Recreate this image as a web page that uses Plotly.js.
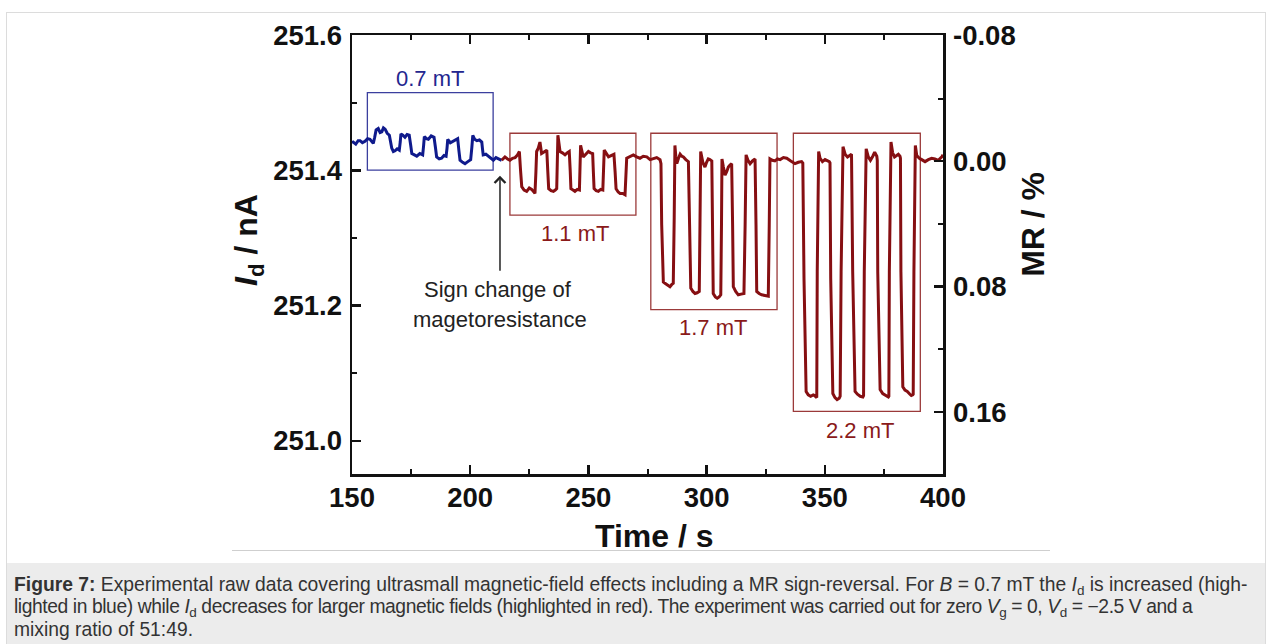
<!DOCTYPE html>
<html>
<head>
<meta charset="utf-8">
<script src="https://cdn.plot.ly/plotly-3.0.1.min.js"></script>
<style>
  html, body { margin: 0; padding: 0; width: 1272px; height: 644px; overflow: hidden; background: #fff; }
  #frame { position: absolute; left: 6px; top: 12px; width: 1260px; height: 640px; border: 1px solid #dcdcdc; box-sizing: border-box; }
  #rule { position: absolute; left: 232px; top: 550px; width: 818px; height: 0; border-top: 1px solid #cfcfcf; }
  #cap { position: absolute; left: 7px; top: 563px; width: 1258px; height: 81px; background: #ececec; }
  #captext { position: absolute; left: 7px; top: 10.5px; font-family: "Liberation Sans", Arial, sans-serif; font-size: 19.3px; line-height: 22.5px; color: #333; white-space: nowrap; }
  #captext sub { font-size: 70%; line-height: 0; vertical-align: -0.3em; }
  #captext .l2 { letter-spacing: -0.42px; }
  #plot { position: absolute; left: 0; top: 0; width: 1272px; height: 644px; }
</style>
</head>
<body>
<div id="frame"></div>
<div id="rule"></div>
<div id="cap"><div id="captext"><b>Figure 7:</b> Experimental raw data covering ultrasmall magnetic-field effects including a MR sign-reversal. For <i>B</i> = 0.7 mT the <i>I</i><sub>d</sub> is increased (high-<br><span class="l2">lighted in blue) while <i>I</i><sub>d</sub> decreases for larger magnetic fields (highlighted in red). The experiment was carried out for zero <i>V</i><sub>g</sub> = 0, <i>V</i><sub>d</sub> = −2.5 V and a</span><br>mixing ratio of 51:49.</div></div>
<div id="plot"></div>
<script>
// ---- data ----
// 0.7 mT segment (blue): time (s) and drain current (nA)
const blueTime = [150.0, 150.5, 151.6, 152.6, 153.4, 154.4, 155.5, 156.6, 157.6, 158.4, 159.0, 159.6, 160.2, 161.1, 161.9, 162.6, 163.3, 164.0, 164.9, 165.8, 166.3, 166.8, 167.5, 168.2, 169.1, 170.0, 170.4, 170.7, 171.5, 172.4, 173.3, 174.2, 174.8, 175.3, 176.4, 177.4, 178.7, 179.9, 180.3, 180.6, 181.5, 182.3, 183.5, 184.7, 185.3, 185.8, 186.9, 187.9, 188.9, 189.8, 190.2, 190.5, 191.6, 192.6, 193.7, 194.7, 195.2, 195.7, 196.8, 197.8, 199.0, 200.2, 200.7, 201.1, 201.9, 202.8, 203.9, 204.9, 205.2, 205.5, 206.6, 207.7, 208.8, 209.8, 210.9, 211.9, 212.6, 213.3];
const blueCurrent = [251.441, 251.442, 251.439, 251.444, 251.444, 251.441, 251.443, 251.447, 251.446, 251.443, 251.440, 251.449, 251.460, 251.462, 251.456, 251.457, 251.463, 251.461, 251.455, 251.452, 251.441, 251.433, 251.428, 251.429, 251.432, 251.430, 251.442, 251.454, 251.452, 251.449, 251.453, 251.452, 251.438, 251.425, 251.423, 251.421, 251.425, 251.423, 251.437, 251.450, 251.447, 251.446, 251.451, 251.449, 251.434, 251.420, 251.417, 251.418, 251.422, 251.421, 251.433, 251.446, 251.441, 251.443, 251.446, 251.447, 251.430, 251.415, 251.412, 251.410, 251.413, 251.416, 251.434, 251.452, 251.446, 251.444, 251.445, 251.442, 251.432, 251.423, 251.424, 251.421, 251.418, 251.415, 251.419, 251.417, 251.416, 251.415];
// 1.1 / 1.7 / 2.2 mT segments (red): time (s) and drain current (nA)
const redTime = [213.3, 214.0, 214.7, 215.8, 216.8, 217.9, 219.0, 220.0, 220.8, 221.3, 221.8, 222.8, 223.9, 225.0, 226.0, 226.7, 227.4, 227.8, 228.1, 228.8, 229.5, 230.2, 231.3, 232.4, 232.8, 233.2, 234.2, 235.2, 236.0, 236.6, 237.1, 238.0, 239.0, 240.1, 241.0, 241.9, 242.3, 242.6, 243.5, 244.3, 245.3, 246.2, 246.7, 247.8, 248.9, 250.0, 250.9, 251.8, 252.1, 252.4, 253.3, 254.2, 255.2, 256.1, 256.7, 257.6, 258.5, 259.6, 260.8, 261.3, 261.7, 262.6, 263.4, 264.5, 265.5, 266.2, 267.6, 269.0, 270.4, 271.8, 273.2, 274.7, 276.1, 277.5, 278.9, 280.3, 280.7, 281.0, 281.7, 282.4, 283.1, 283.8, 284.5, 285.2, 285.9, 286.3, 286.6, 287.0, 287.4, 288.1, 288.8, 289.5, 290.2, 291.2, 292.3, 292.8, 293.3, 294.2, 295.1, 296.0, 296.9, 297.2, 297.5, 298.4, 299.3, 300.0, 300.7, 301.4, 302.2, 302.5, 302.8, 303.7, 304.5, 305.3, 306.0, 306.3, 306.5, 307.1, 307.8, 308.5, 309.2, 309.9, 310.6, 311.0, 311.3, 312.3, 313.4, 314.6, 315.8, 316.3, 316.7, 317.5, 318.4, 319.4, 320.5, 320.9, 321.2, 322.2, 323.3, 324.7, 326.1, 326.5, 326.8, 327.8, 328.9, 330.0, 331.1, 332.5, 333.9, 335.6, 337.4, 338.8, 340.2, 340.7, 341.2, 342.1, 343.0, 344.0, 345.1, 345.7, 346.3, 346.6, 346.8, 347.4, 348.0, 349.0, 350.1, 351.0, 351.9, 352.2, 352.5, 353.4, 354.3, 355.2, 356.1, 356.5, 356.9, 357.7, 358.6, 359.6, 360.7, 361.3, 361.8, 362.8, 363.8, 365.0, 366.1, 366.4, 366.7, 367.5, 368.4, 369.3, 370.3, 371.1, 372.0, 372.2, 372.4, 373.4, 374.5, 375.7, 376.9, 377.1, 377.3, 378.0, 378.7, 379.5, 380.4, 381.1, 381.8, 382.0, 382.2, 383.0, 383.9, 384.9, 386.0, 386.6, 387.2, 387.4, 387.7, 388.3, 388.9, 390.0, 391.0, 392.4, 393.8, 395.2, 396.6, 398.0, 399.5, 400.0];
const redCurrent = [251.415, 251.418, 251.420, 251.417, 251.415, 251.418, 251.419, 251.423, 251.428, 251.400, 251.376, 251.371, 251.369, 251.374, 251.372, 251.369, 251.366, 251.398, 251.428, 251.433, 251.442, 251.425, 251.427, 251.430, 251.400, 251.373, 251.370, 251.369, 251.371, 251.373, 251.452, 251.428, 251.426, 251.423, 251.426, 251.428, 251.400, 251.373, 251.371, 251.369, 251.372, 251.371, 251.437, 251.420, 251.424, 251.428, 251.426, 251.425, 251.398, 251.373, 251.370, 251.369, 251.372, 251.371, 251.430, 251.424, 251.420, 251.422, 251.424, 251.398, 251.373, 251.368, 251.366, 251.366, 251.364, 251.418, 251.421, 251.423, 251.420, 251.418, 251.421, 251.420, 251.416, 251.417, 251.419, 251.416, 251.410, 251.320, 251.235, 251.233, 251.231, 251.230, 251.228, 251.231, 251.233, 251.330, 251.437, 251.420, 251.410, 251.418, 251.424, 251.421, 251.420, 251.416, 251.413, 251.320, 251.226, 251.221, 251.218, 251.219, 251.221, 251.320, 251.428, 251.412, 251.405, 251.412, 251.417, 251.416, 251.414, 251.320, 251.218, 251.213, 251.211, 251.213, 251.216, 251.320, 251.417, 251.405, 251.393, 251.398, 251.405, 251.408, 251.410, 251.320, 251.228, 251.221, 251.216, 251.217, 251.218, 251.320, 251.423, 251.415, 251.410, 251.414, 251.417, 251.320, 251.221, 251.218, 251.216, 251.215, 251.214, 251.320, 251.417, 251.415, 251.414, 251.417, 251.416, 251.419, 251.418, 251.414, 251.410, 251.412, 251.413, 251.411, 251.240, 251.073, 251.068, 251.066, 251.068, 251.067, 251.065, 251.064, 251.250, 251.428, 251.418, 251.413, 251.416, 251.415, 251.413, 251.411, 251.240, 251.070, 251.064, 251.061, 251.063, 251.066, 251.250, 251.435, 251.424, 251.420, 251.422, 251.424, 251.250, 251.073, 251.069, 251.066, 251.065, 251.067, 251.250, 251.432, 251.420, 251.415, 251.421, 251.427, 251.421, 251.415, 251.250, 251.076, 251.070, 251.067, 251.065, 251.066, 251.250, 251.442, 251.426, 251.420, 251.422, 251.424, 251.421, 251.418, 251.250, 251.080, 251.075, 251.073, 251.069, 251.067, 251.068, 251.069, 251.250, 251.437, 251.422, 251.418, 251.416, 251.413, 251.416, 251.418, 251.417, 251.415, 251.420, 251.423, 251.425];
// highlighted field regions: label, start (s), end (s), lower (nA), upper (nA)
const regionLabels = ["0.7 mT", "1.1 mT", "1.7 mT", "2.2 mT"];
const regionStart = [156.5, 216.8, 276.4, 336.7];
const regionEnd   = [209.7, 270.1, 329.8, 390.4];
const regionLow   = [251.4005, 251.334, 251.194, 251.0435];
const regionHigh  = [251.515, 251.455, 251.455, 251.455];
// tick values
const xTicks = [150, 200, 250, 300, 350, 400];
const yTicks = [251.0, 251.2, 251.4, 251.6];
const mrTicks = [-0.08, 0.00, 0.08, 0.16];
const mrTickText = ["-0.08", "0.00", "0.08", "0.16"];
const mrMinor = [-0.04, 0.04, 0.12];

const BLUE = "#0f1a8c";
const RED = "#860f12";
const BLUE_BOX = "#3b3f9e";
const RED_BOX = "#9b3a3a";
const FONT = "Liberation Sans, Arial, Helvetica, sans-serif";

const traces = [
  { x: blueTime, y: blueCurrent, type: "scatter", mode: "lines", line: { color: BLUE, width: 3 }, hoverinfo: "skip", showlegend: false },
  { x: redTime, y: redCurrent, type: "scatter", mode: "lines", line: { color: RED, width: 3 }, hoverinfo: "skip", showlegend: false },
  { x: [150, 400], y: [0, 0], yaxis: "y2", type: "scatter", mode: "lines", line: { color: "rgba(0,0,0,0)", width: 0 }, hoverinfo: "skip", showlegend: false }
];

const shapes = regionLabels.map((lab, i) => ({
  type: "rect", xref: "x", yref: "y",
  x0: regionStart[i], x1: regionEnd[i], y0: regionLow[i], y1: regionHigh[i],
  line: { color: i === 0 ? BLUE_BOX : RED_BOX, width: 1.3 }, fillcolor: "rgba(0,0,0,0)", layer: "below"
}));

const labelPos = [
  { x: 183.0, y: 251.536 },
  { x: 244.3, y: 251.306 },
  { x: 302.7, y: 251.168 },
  { x: 364.9, y: 251.015 }
];
const annotations = regionLabels.map((lab, i) => ({
  text: lab, x: labelPos[i].x, y: labelPos[i].y, xref: "x", yref: "y", showarrow: false,
  xanchor: "center", yanchor: "middle",
  font: { family: FONT, size: 22, color: i === 0 ? "#23268f" : "#8a1a1a" }
}));
annotations.push(
  { text: " ", x: 212.6, y: 251.392, xref: "x", yref: "y", showarrow: true, ax: 0, ay: 98, axref: "pixel", ayref: "pixel",
    arrowhead: 4, arrowsize: 1.4, arrowwidth: 1.5, arrowcolor: "#222", font: { size: 2 } },
  { text: "Sign change of", x: 211.8, y: 251.2232, xref: "x", yref: "y", xanchor: "center", yanchor: "middle", showarrow: false, font: { family: FONT, size: 22, color: "#222" } },
  { text: "magetoresistance", x: 212.6, y: 251.1788, xref: "x", yref: "y", xanchor: "center", yanchor: "middle", showarrow: false, font: { family: FONT, size: 22, color: "#222" } },
  { text: "Time / s", x: 0.512, y: -0.141, xref: "paper", yref: "paper", xanchor: "center", yanchor: "middle", showarrow: false, font: { family: FONT, size: 32, color: "#111", weight: "bold" } },
  { text: "<i>I</i><sub>d</sub> / nA", x: -0.176, y: 0.533, xref: "paper", yref: "paper", xanchor: "center", yanchor: "middle", showarrow: false, textangle: -90, font: { family: FONT, size: 32, color: "#111", weight: "bold" } },
  { text: "MR / %", x: 1.152, y: 0.5695, xref: "paper", yref: "paper", xanchor: "center", yanchor: "middle", showarrow: false, textangle: -90, font: { family: FONT, size: 32, color: "#111", weight: "bold" } }
);

const tickFont = { family: FONT, size: 27.5, color: "#111", weight: "bold" };

const layout = {
  width: 1272, height: 644,
  margin: { l: 352, r: 329, t: 35, b: 170, pad: 0 },
  paper_bgcolor: "rgba(0,0,0,0)", plot_bgcolor: "rgba(0,0,0,0)",
  showlegend: false,
  xaxis: {
    range: [150, 400.0001], autorange: false, tickmode: "array", tickvals: xTicks, ticktext: xTicks.map(String),
    ticks: "inside", ticklen: 9, tickwidth: 2.5, tickcolor: "#111",
    showline: true, linewidth: 2.5, linecolor: "#111", mirror: "ticks",
    showgrid: false, zeroline: false, tickfont: tickFont, ticklabelstandoff: -3,
    minor: { tickmode: "array", tickvals: [175, 225, 275, 325, 375], ticks: "inside", ticklen: 5, tickwidth: 2, tickcolor: "#111", showgrid: false }
  },
  yaxis: {
    range: [250.951, 251.6003], autorange: false, tickmode: "array", tickvals: yTicks, ticktext: yTicks.map(v => v.toFixed(1)),
    ticks: "inside", ticklen: 9, tickwidth: 2.5, tickcolor: "#111",
    showline: true, linewidth: 2.5, linecolor: "#111", mirror: false,
    showgrid: false, zeroline: false, tickfont: tickFont, ticklabelstandoff: 2,
    minor: { tickmode: "array", tickvals: [251.1, 251.3, 251.5], ticks: "inside", ticklen: 5, tickwidth: 2, tickcolor: "#111", showgrid: false }
  },
  yaxis2: {
    overlaying: "y", side: "right", anchor: "x",
    range: [0.1995, -0.0805], autorange: false, tickmode: "array", tickvals: mrTicks, ticktext: mrTickText,
    ticks: "inside", ticklen: 9, tickwidth: 2.5, tickcolor: "#111",
    showline: true, linewidth: 2.5, linecolor: "#111",
    showgrid: false, zeroline: false, tickfont: tickFont, ticklabelstandoff: 2,
    minor: { tickmode: "array", tickvals: mrMinor, ticks: "inside", ticklen: 5, tickwidth: 2, tickcolor: "#111", showgrid: false }
  },
  shapes: shapes,
  annotations: annotations
};

Plotly.newPlot("plot", traces, layout, { staticPlot: true, displayModeBar: false });
</script>
</body>
</html>
